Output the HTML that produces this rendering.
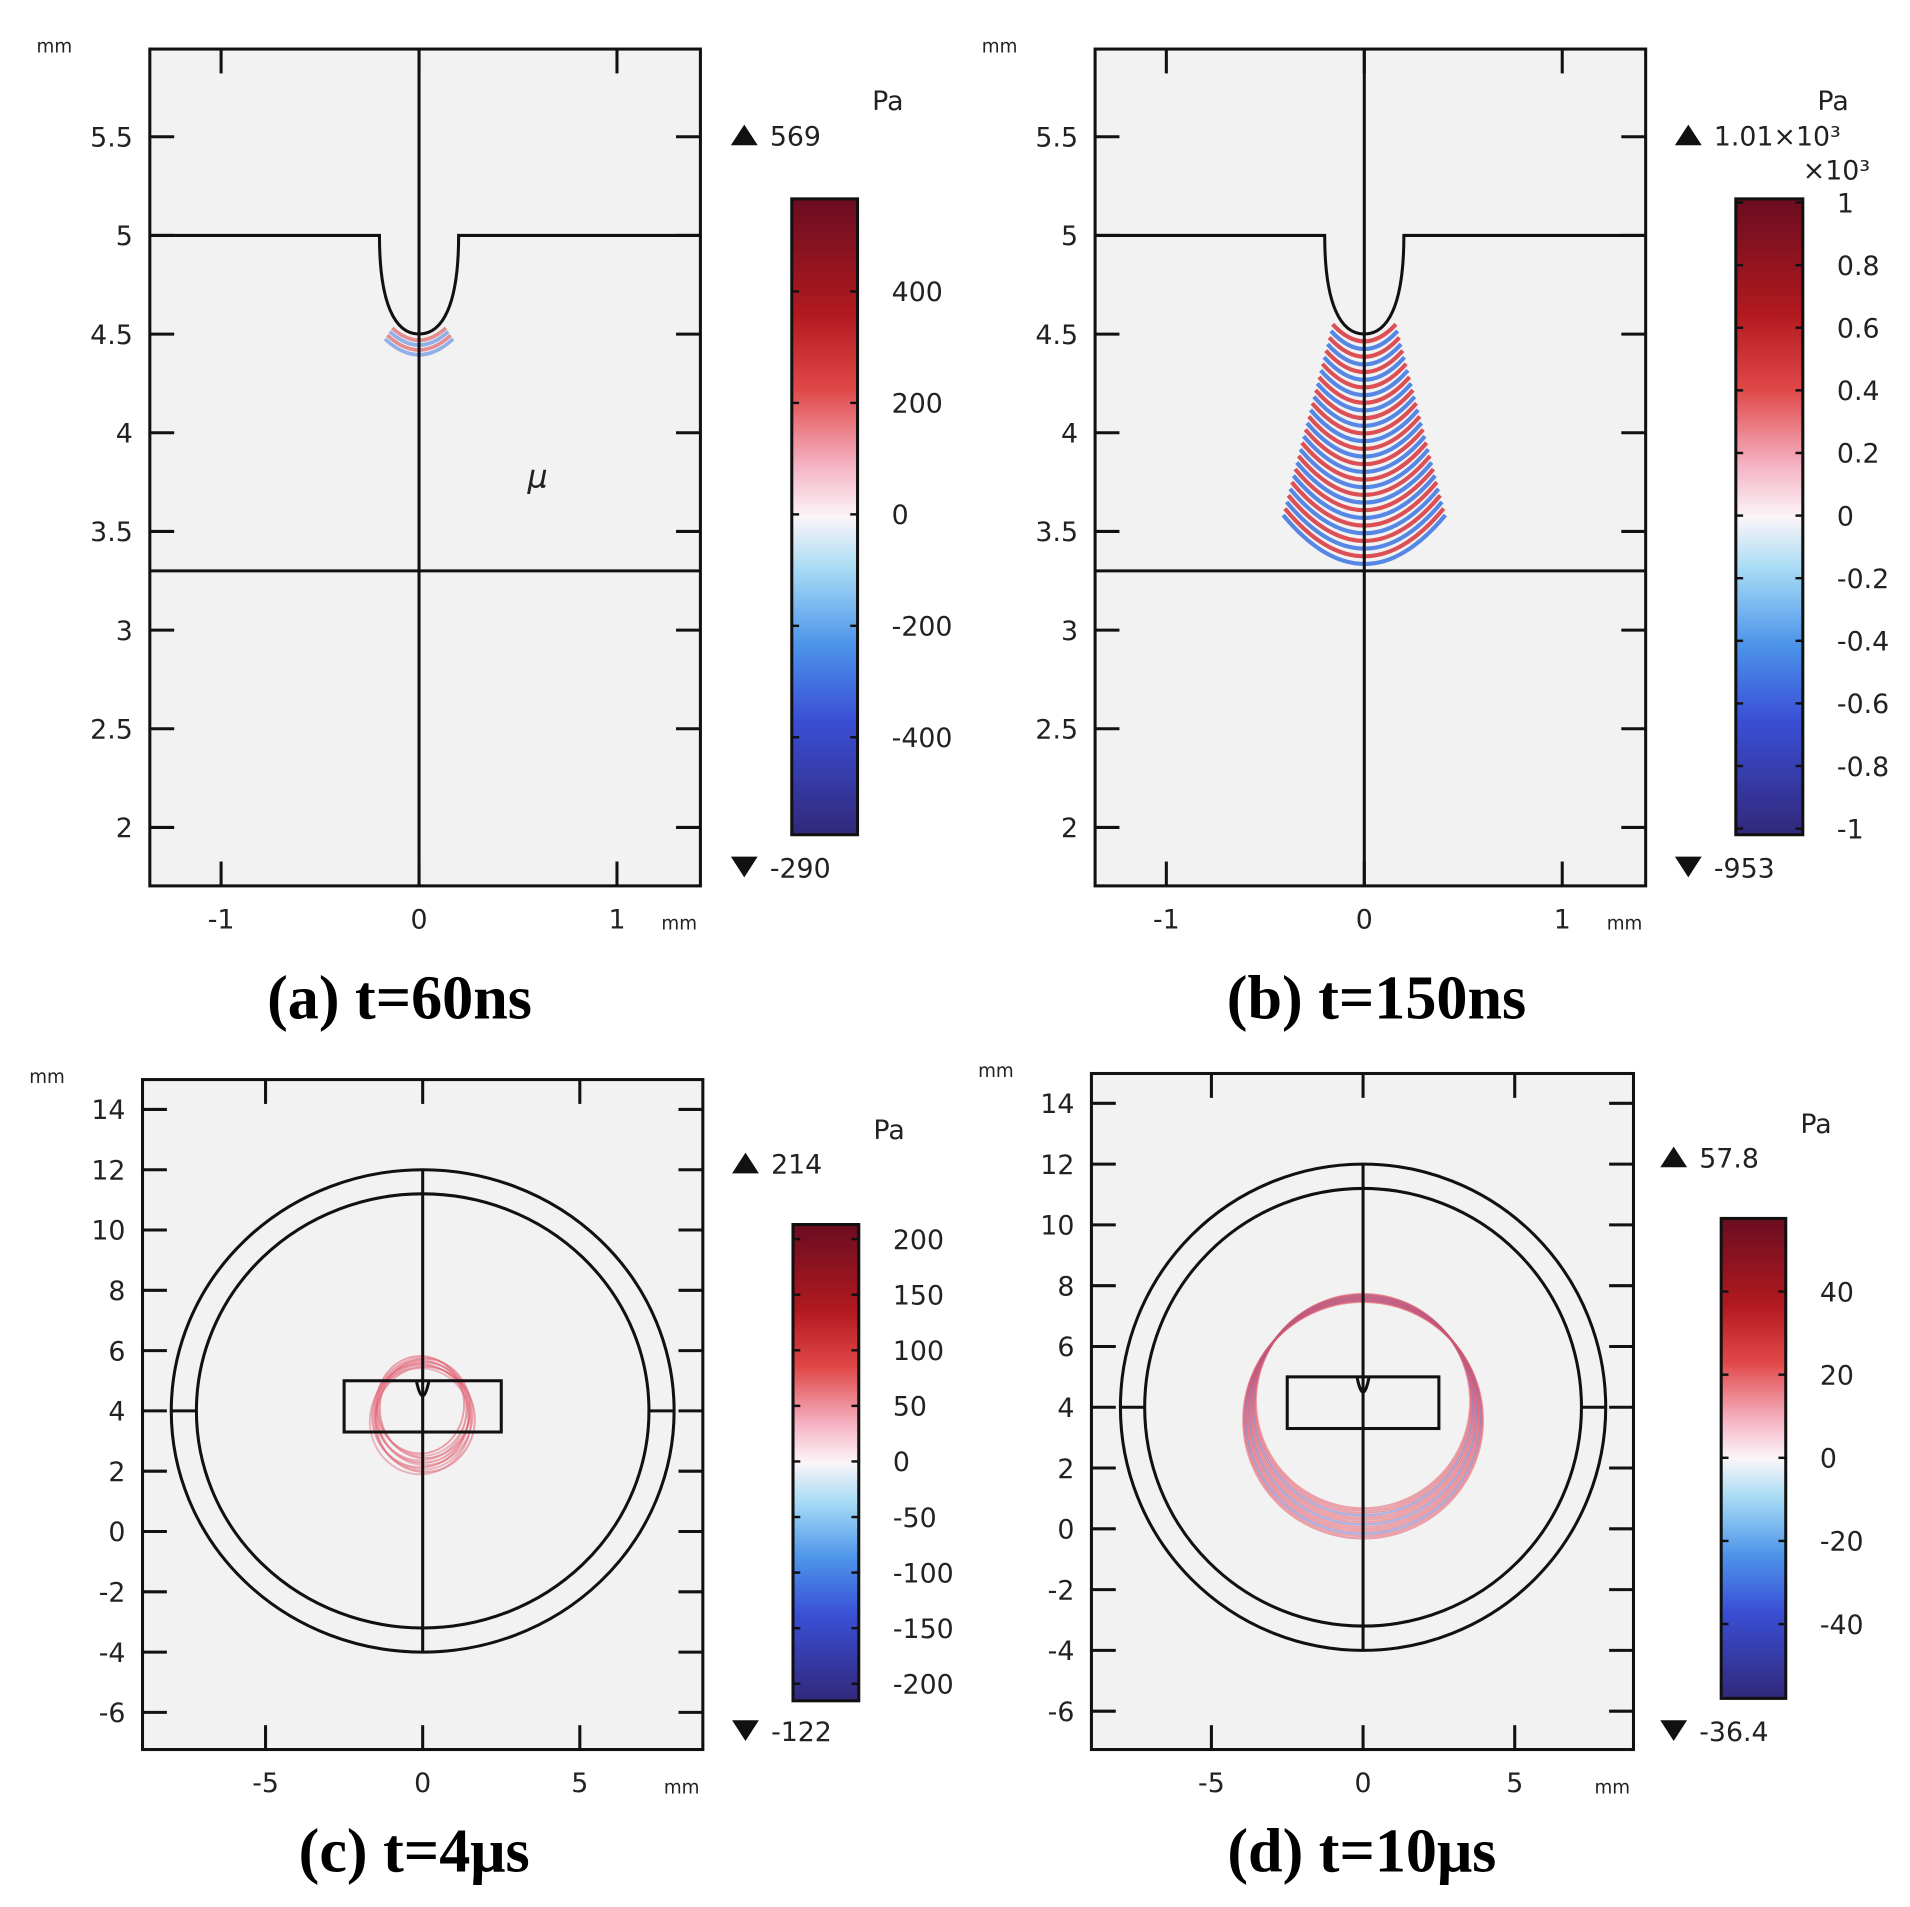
<!DOCTYPE html>
<html><head><meta charset="utf-8"><style>
html,body{margin:0;padding:0;background:#fff}
svg{display:block}
text{font-family:"DejaVu Sans","Liberation Sans",sans-serif;fill:#222}
.cap{font-family:"Liberation Serif",serif;font-weight:bold;fill:#000}
</style></head><body>
<svg id="fig" width="1910" height="1907" viewBox="0 0 1568 1565" xmlns="http://www.w3.org/2000/svg">
<defs>
<linearGradient id="cmap" x1="0" y1="0" x2="0" y2="1">
<stop offset="0" stop-color="#6a0d20"/><stop offset="0.18" stop-color="#b1191f"/><stop offset="0.3" stop-color="#e04848"/>
<stop offset="0.42" stop-color="#f5b3c4"/><stop offset="0.5" stop-color="#fbf5f8"/><stop offset="0.58" stop-color="#a9dcf5"/>
<stop offset="0.7" stop-color="#4d95ea"/><stop offset="0.82" stop-color="#3a4fd6"/><stop offset="1" stop-color="#32287a"/>
</linearGradient>
</defs>
<g id="root"></g>
</svg>
<script>
// Panel data
const aXTicks=[-1,0,1], aYTicks=[2,2.5,3,3.5,4,4.5,5,5.5];
const aCbTicks=[400,200,0,-200,-400], aMax='569', aMin='-290';
const bCbTicks=[1,0.8,0.6,0.4,0.2,0,-0.2,-0.4,-0.6,-0.8,-1], bMax='1.01×10³', bMin='-953';
const cXTicks=[-5,0,5], cYTicks=[14,12,10,8,6,4,2,0,-2,-4,-6];
const cCbTicks=[200,150,100,50,0,-50,-100,-150,-200], cMax='214', cMin='-122';
const dCbTicks=[40,20,0,-20,-40], dMax='57.8', dMin='-36.4';
const captions=['(a) t=60ns','(b) t=150ns','(c) t=4μs','(d) t=10μs'];

const NS='http://www.w3.org/2000/svg';
const root=document.getElementById('root');
function el(tag,attrs,parent,txt){const e=document.createElementNS(NS,tag);for(const k in attrs)e.setAttribute(k,attrs[k]);if(txt!==undefined)e.textContent=txt;(parent||root).appendChild(e);return e;}
function grp(name){const g=el('g',{});


return g;}

function panel(P){
 const g=grp(P.name);
 const sx=v=>P.x0+(v-P.xv0)*P.kx, sy=v=>P.y0-(v-P.yv0)*P.ky;
 const bg=el('rect',{x:P.L,y:P.T,width:P.R-P.L,height:P.B-P.T,fill:'#f2f2f2'},g);
 
 
 P.draw(g,sx,sy);
 el('rect',{x:P.L,y:P.T,width:P.R-P.L,height:P.B-P.T,fill:'none',stroke:'#111','stroke-width':2.5},g);
 const tk=grp('ticks');g.appendChild(tk);
 P.xt.forEach(v=>{const x=sx(v);
  el('line',{x1:x,x2:x,y1:P.T,y2:P.T+20,stroke:'#111','stroke-width':2.5},tk);
  el('line',{x1:x,x2:x,y1:P.B,y2:P.B-20,stroke:'#111','stroke-width':2.5},tk);
  const t=el('text',{x:x,y:P.B+35,'text-anchor':'middle','font-size':22},tk,String(v));
  
  });
 P.yt.forEach(v=>{const y=sy(v);
  el('line',{x1:P.L,x2:P.L+20,y1:y,y2:y,stroke:'#111','stroke-width':2.5},tk);
  el('line',{x1:P.R,x2:P.R-20,y1:y,y2:y,stroke:'#111','stroke-width':2.5},tk);
  const t=el('text',{x:P.L-14,y:y+8,'text-anchor':'end','font-size':22},tk,String(v));
  
  });
 el('text',{x:P.L-93,y:P.T+3,'font-size':15},g,'mm');
 el('text',{x:P.R-32,y:P.B+36,'font-size':15},g,'mm');
 const cb=grp('colorbar');g.appendChild(cb);
 el('rect',{x:P.cx,y:P.cT,width:P.cw,height:P.cB-P.cT,fill:'url(#cmap)',stroke:'#111','stroke-width':2.5},cb);
 P.cb.forEach((v,i)=>{const y=P.cbPos(v);
  el('line',{x1:P.cx,x2:P.cx+6,y1:y,y2:y,stroke:'#111','stroke-width':2},cb);
  el('line',{x1:P.cx+P.cw-6,x2:P.cx+P.cw,y1:y,y2:y,stroke:'#111','stroke-width':2},cb);
  const t=el('text',{x:P.cx+P.cw+28,y:y+8,'font-size':22},cb,String(v));
  
  });
 const pa=el('text',{x:P.cx+P.cw+12,y:P.paY,'font-size':22},cb,'Pa');
 
 
 const mx=P.cx-50;
 el('path',{d:`M${mx} ${P.maxY} l11 -17 l11 17z`,fill:'#111'},cb);
 el('text',{x:mx+32,y:P.maxY,'font-size':22},cb,P.max);
 el('path',{d:`M${mx} ${P.minY-17} l22 0 l-11 17z`,fill:'#111'},cb);
 el('text',{x:mx+32,y:P.minY,'font-size':22},cb,P.min);
 if(P.extra)P.extra(cb);
 const c=el('text',{x:P.capX,y:P.capY,'text-anchor':'middle','font-size':51,class:'cap'},g,P.cap);
 
 
}
function linPos(ticks,top,bot){const a=ticks[0],b=ticks[ticks.length-1];return v=>top+(v-a)/(b-a)*(bot-top);}

function arcs(g,cx,yStart,n,step,w0,wk,h0,hk,sw,op){
 for(let i=0;i<n;i++){const y=yStart+i*step,w=w0+i*wk,h=h0+i*hk;
  const col=i%2?'#2f6be0':'#d6262c';
  el('path',{d:`M${cx-w} ${y-h} Q${cx} ${y+h} ${cx+w} ${y-h}`,fill:'none',stroke:col,'stroke-width':sw,opacity:op},g);}
}
function groove(g,sx,sy,L,R){
 el('path',{d:`M${L} ${sy(5)} L${sx(-0.2)} ${sy(5)} C${sx(-0.2)} ${sy(4.65)} ${sx(-0.12)} ${sy(4.5)} ${sx(0)} ${sy(4.5)} C${sx(0.12)} ${sy(4.5)} ${sx(0.2)} ${sy(4.65)} ${sx(0.2)} ${sy(5)} L${R} ${sy(5)}`,fill:'none',stroke:'#111','stroke-width':2.5},g);
}

panel({name:'panel-a',L:123,R:575,T:40,B:727,x0:344,xv0:0,kx:162.5,y0:193,yv0:5,ky:162,xt:aXTicks,yt:aYTicks,
 cx:650,cw:54,cT:163,cB:685,cb:aCbTicks,cbPos:v=>422-v*0.4575,paY:90,maxY:119,minY:720,max:aMax,min:aMin,cap:captions[0],capX:328,capY:836,
 draw:(g,sx,sy)=>{
  const w=grp('pressure-waves');g.appendChild(w);
  arcs(w,344,279,4,4,22,2,10,1,3,0.5);
  el('line',{x1:123,x2:575,y1:sy(3.3),y2:sy(3.3),stroke:'#111','stroke-width':2.5},g);
  el('line',{x1:344,x2:344,y1:40,y2:727,stroke:'#111','stroke-width':2.5},g);
  groove(g,sx,sy,123,575);
  el('text',{x:433,y:400,'font-size':26,'font-style':'italic','font-family':'Liberation Serif,serif'},g,'μ');
 }});
panel({name:'panel-b',L:899,R:1351,T:40,B:727,x0:1120,xv0:0,kx:162.5,y0:193,yv0:5,ky:162,xt:aXTicks,yt:aYTicks,
 cx:1425,cw:55,cT:163,cB:685,cb:bCbTicks,cbPos:linPos(bCbTicks,166,680),paY:90,maxY:119,minY:720,max:bMax,min:bMin,cap:captions[1],capX:1130,capY:836,
 extra:cb=>{el('text',{x:1480,y:147,'font-size':22},cb,'×10³');},
 draw:(g,sx,sy)=>{
  const w=grp('pressure-waves');g.appendChild(w);
  arcs(w,1120,280,30,6.3,26,1.4,14,0.9,3.4,0.8);
  el('line',{x1:899,x2:1351,y1:sy(3.3),y2:sy(3.3),stroke:'#111','stroke-width':2.5},g);
  el('line',{x1:1120,x2:1120,y1:40,y2:727,stroke:'#111','stroke-width':2.5},g);
  groove(g,sx,sy,899,1351);
 }});
function disk(g,sx,sy,k){
 const cx=sx(0),cy=sy(4);
 el('ellipse',{cx:cx,cy:cy,rx:8*k.x,ry:8*k.y,fill:'none',stroke:'#111','stroke-width':2.5},g);
 el('ellipse',{cx:cx,cy:cy,rx:7.2*k.x,ry:7.2*k.y,fill:'none',stroke:'#111','stroke-width':2.5},g);
 el('line',{x1:cx,x2:cx,y1:cy-8*k.y,y2:cy+8*k.y,stroke:'#111','stroke-width':2.5},g);
 el('line',{x1:cx-8*k.x,x2:cx-7.2*k.x,y1:cy,y2:cy,stroke:'#111','stroke-width':2.5},g);
 el('line',{x1:cx+7.2*k.x,x2:cx+8*k.x,y1:cy,y2:cy,stroke:'#111','stroke-width':2.5},g);
 el('rect',{x:sx(-2.5),y:sy(5),width:5*k.x,height:1.7*k.y,fill:'none',stroke:'#111','stroke-width':2.5},g);
 el('path',{d:`M${sx(-0.2)} ${sy(5)} Q${sx(0)} ${sy(4)} ${sx(0.2)} ${sy(5)}`,fill:'none',stroke:'#111','stroke-width':2.5},g);
}
panel({name:'panel-c',L:117,R:577,T:886,B:1436,x0:347,xv0:0,kx:25.8,y0:1158,yv0:4,ky:24.75,xt:cXTicks,yt:cYTicks,
 cx:651,cw:54,cT:1005,cB:1396,cb:cCbTicks,cbPos:linPos(cCbTicks,1017,1382),paY:935,maxY:963,minY:1429,max:cMax,min:cMin,cap:captions[2],capX:340,capY:1536,
 draw:(g,sx,sy)=>{
  const w=grp('pressure-waves');g.appendChild(w);
  for(let i=0;i<10;i++)el('ellipse',{cx:347+(i%3-1)*2,cy:1153+i*1.5,rx:36+i*0.6,ry:40+i*0.4,fill:'none',stroke:i%2?'#e08090':'#e65a6c','stroke-width':1.6,opacity:0.55},w);
  disk(g,sx,sy,{x:25.8,y:24.75});
 }});
panel({name:'panel-d',L:896,R:1341,T:881,B:1436,x0:1119,xv0:0,kx:24.9,y0:1155,yv0:4,ky:24.95,xt:cXTicks,yt:cYTicks,
 cx:1413,cw:53,cT:1000,cB:1394,cb:dCbTicks,cbPos:linPos(dCbTicks,1060,1333),paY:930,maxY:958,minY:1429,max:dMax,min:dMin,cap:captions[3],capX:1118,capY:1536,
 draw:(g,sx,sy)=>{
  const w=grp('pressure-waves');g.appendChild(w);
  for(let i=0;i<14;i++)el('ellipse',{cx:1119,cy:1150+i*1.2,rx:88+i*0.8,ry:88+i*0.7,fill:'none',stroke:i%4==3?'#5b6fd8':'#e2505f','stroke-width':1.8,opacity:0.5},w);
  disk(g,sx,sy,{x:24.9,y:24.95});
 }});
</script>
</body></html>
